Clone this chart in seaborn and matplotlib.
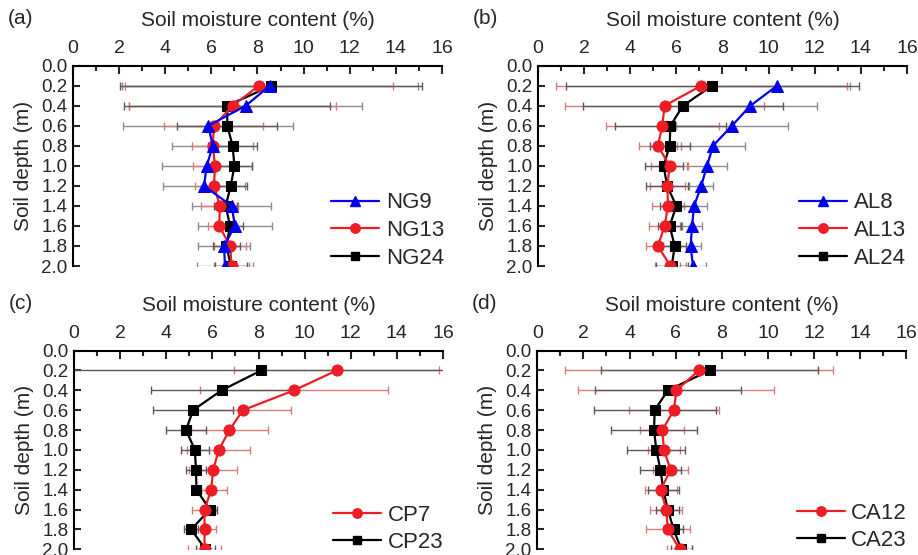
import matplotlib
matplotlib.use("Agg")
import matplotlib.pyplot as plt
import pandas as pd
import seaborn as sns
from matplotlib.lines import Line2D
from matplotlib.ticker import MultipleLocator, FormatStrFormatter

# Sampling depths (m)
depth = [0.2, 0.4, 0.6, 0.8, 1.0, 1.2, 1.4, 1.6, 1.8, 2.0]

# (a) natural grassland
ng9 = [8.54, 7.49, 5.87, 6.06, 5.80, 5.68, 6.88, 7.02, 6.55, 6.59]
ng9_sd = [6.40, 5.05, 3.69, 1.75, 1.95, 1.79, 1.70, 1.62, 1.12, 1.23]
ng13 = [8.07, 6.92, 6.11, 6.06, 6.16, 6.11, 6.37, 6.34, 6.81, 6.88]
ng13_sd = [5.80, 4.50, 2.15, 0.92, 0.94, 0.82, 0.80, 0.50, 0.68, 0.75]
ng24 = [8.60, 6.69, 6.69, 6.92, 7.00, 6.84, 6.62, 6.81, 6.65, 6.85]
ng24_sd = [6.55, 4.46, 2.17, 1.05, 0.75, 0.70, 0.50, 0.55, 0.60, 0.70]

# (b) alfalfa
al8 = [10.37, 9.21, 8.41, 7.59, 7.33, 7.08, 6.77, 6.68, 6.62, 6.72]
al8_sd = [3.18, 2.89, 2.43, 1.37, 0.87, 0.52, 0.56, 0.43, 0.46, 0.56]
al13 = [7.08, 5.49, 5.39, 5.20, 5.71, 5.61, 5.64, 5.49, 5.20, 5.74]
al13_sd = [6.31, 4.33, 2.45, 0.82, 0.79, 0.77, 0.68, 0.68, 0.53, 0.68]
al24 = [7.55, 6.29, 5.74, 5.71, 5.45, 5.60, 6.00, 5.71, 5.93, 5.80]
al24_sd = [6.35, 4.34, 2.41, 0.87, 0.82, 0.90, 0.72, 0.51, 0.50, 0.70]

# (c) Chinese pine
cp7 = [11.39, 9.54, 7.32, 6.74, 6.28, 6.03, 5.95, 5.66, 5.66, 5.66]
cp7_sd = [4.45, 4.09, 2.10, 1.65, 1.36, 1.05, 0.70, 0.55, 0.50, 0.72]
cp23 = [8.12, 6.40, 5.16, 4.86, 5.24, 5.29, 5.31, 5.89, 5.08, 5.70]
cp23_sd = [8.30, 3.06, 1.75, 0.85, 0.60, 0.45, 0.20, 0.30, 0.30, 0.40]

# (d) Caragana
ca12 = [7.00, 6.03, 5.92, 5.42, 5.49, 5.78, 5.35, 5.59, 5.66, 6.17]
ca12_sd = [5.80, 4.25, 1.95, 0.95, 0.70, 0.75, 0.70, 0.70, 0.95, 0.55]
ca23 = [7.47, 5.66, 5.09, 5.06, 5.16, 5.34, 5.46, 5.66, 5.91, 6.24]
ca23_sd = [4.70, 3.15, 2.65, 1.85, 1.25, 0.87, 0.68, 0.50, 0.40, 0.45]

BLUE = "#0000ee"
RED = "#ee1c24"
BLACK = "#000000"
ERR = {BLUE: "#8c8c8c", RED: "#d97a7a", BLACK: "#5a5a5a"}
MARK = {BLUE: ("^", 9.0), RED: ("o", 8.0), BLACK: ("s", 6.5)}

sns.set_style("ticks")
plt.rcParams["font.family"] = ["Liberation Sans", "DejaVu Sans"]

fig = plt.figure(figsize=(9.18, 5.55), dpi=100)

W = 0.402
panels = [
    ("(a)", [0.0795, 0.5207, W, 0.361],
     [("NG9", ng9, ng9_sd, BLUE), ("NG13", ng13, ng13_sd, RED), ("NG24", ng24, ng24_sd, BLACK)],
     (0.700, -0.014)),
    ("(b)", [0.5860, 0.5207, W, 0.361],
     [("AL8", al8, al8_sd, BLUE), ("AL13", al13, al13_sd, RED), ("AL24", al24, al24_sd, BLACK)],
     (0.708, -0.014)),
    ("(c)", [0.0806, 0.0103, W, 0.358],
     [("CP7", cp7, cp7_sd, RED), ("CP23", cp23, cp23_sd, BLACK)],
     (0.702, -0.020)),
    ("(d)", [0.5853, 0.0103, W, 0.358],
     [("CA12", ca12, ca12_sd, RED), ("CA23", ca23, ca23_sd, BLACK)],
     (0.703, -0.010)),
]

for tag, rect, series, leg_anchor in panels:
    ax = fig.add_axes(rect)
    handles = []
    n = len(series)
    for i, (name, vals, sd, col) in enumerate(series):
        z = 3 + (n - i)
        ax.errorbar(vals, depth, xerr=sd, fmt="none", ecolor=ERR[col],
                    elinewidth=1.0, capsize=3.2, capthick=1.0, zorder=2)
        df = pd.DataFrame({"moisture": vals, "depth": depth})
        mk, ms = MARK[col]
        sns.lineplot(data=df, x="moisture", y="depth", sort=False, estimator=None,
                     color=col, linewidth=1.6, marker=mk, markersize=ms,
                     markeredgecolor=col, ax=ax, zorder=z, legend=False)
        handles.append(Line2D([], [], color=col, linewidth=1.6, marker=mk,
                              markersize=ms * 0.85, markeredgecolor=col, label=name))

    ax.set_xlim(0, 16)
    ax.set_ylim(2.0, 0.0)
    ax.xaxis.set_major_locator(MultipleLocator(2))
    ax.xaxis.set_minor_locator(MultipleLocator(1))
    ax.yaxis.set_major_locator(MultipleLocator(0.2))
    ax.yaxis.set_major_formatter(FormatStrFormatter("%.1f"))
    ax.xaxis.tick_top()
    ax.xaxis.set_label_position("top")
    ax.tick_params(axis="x", which="major", direction="in", length=6, width=1.5,
                   labelsize=14, pad=6, top=True, bottom=False)
    ax.tick_params(axis="x", which="minor", direction="in", length=3.5, width=1.5,
                   top=True, bottom=False)
    ax.tick_params(axis="y", which="major", direction="in", length=5, width=1.5,
                   labelsize=13.5, pad=4)
    for s in ("right", "bottom"):
        ax.spines[s].set_visible(False)
    for s in ("top", "left"):
        ax.spines[s].set_linewidth(1.5)
        ax.spines[s].set_color("black")
    ax.set_xlabel("Soil moisture content (%)", fontsize=15, labelpad=10)
    ax.set_ylabel("Soil depth (m)", fontsize=15, labelpad=6)
    ax.set_facecolor("white")

    leg = ax.legend(handles=handles, loc="lower left", bbox_to_anchor=leg_anchor,
                    frameon=False, fontsize=16, handlelength=2.15, handletextpad=0.3,
                    labelspacing=0.3, borderaxespad=0.0, borderpad=0.0)
    leg.set_zorder(10)

    fig.text(rect[0] - 0.071, rect[1] + rect[3] + 0.085, tag, fontsize=15,
             ha="left", va="center")

fig.savefig("out.png", dpi=100, facecolor="white")
